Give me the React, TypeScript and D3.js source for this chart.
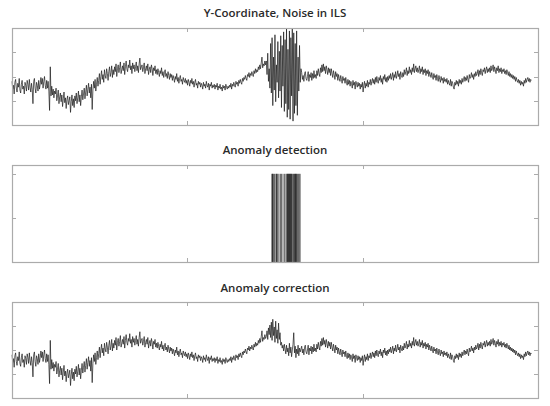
import React from "react";
import * as d3 from "d3";

// ---------- DATA ----------
const titles = ["Y-Coordinate, Noise in ILS", "Anomaly detection", "Anomaly correction"];

const xDomain = [0, 1200];
const xTicks = [400, 800];
const seriesSpan = 1185;

const signalYDomain = [0, 100];
const signalYTicks = [25, 50, 75];
const detectYDomain = [0, 1.1];
const detectYTicks = [0.5, 1];

// raw Y-coordinate signal before the ILS noise burst
const signalBefore = [
  45, 37, 41, 32, 44, 47, 38, 34, 43, 39, 48, 36, 33, 42, 46, 37, 40, 32, 44, 41,
  35, 46, 42, 36, 47, 39, 34, 43, 37, 22, 45, 48, 38, 33, 44, 41, 35, 46, 37, 42,
  49, 42, 48, 38, 45, 50, 41, 37, 46, 38, 45, 35, 15, 60, 30, 40, 31, 37, 28, 35,
  32, 38, 25, 30, 36, 22, 29, 33, 24, 31, 19, 27, 34, 23, 28, 17, 26, 30, 21, 25,
  29, 13, 24, 31, 20, 27, 18, 30, 25, 33, 22, 28, 35, 24, 31, 20, 29, 36, 26, 32,
  38, 27, 34, 41, 30, 37, 43, 33, 39, 28, 42, 16, 36, 45, 38, 47, 35, 42, 49, 40,
  46, 53, 42, 50, 56, 47, 52, 44, 57, 51, 48, 58, 53, 46, 55, 60, 50, 54, 61, 49,
  57, 52, 60, 55, 63, 50, 58, 62, 54, 59, 65, 53, 57, 61, 56, 64, 52, 60, 66, 58,
  55, 62, 59, 67, 57, 61, 53, 64, 58, 62, 55, 60, 65, 56, 61, 54, 63, 69, 57, 60,
  62, 55, 59, 64, 53, 58, 61, 56, 63, 52, 57, 60, 54, 62, 58, 51, 59, 56, 61, 53,
  57, 52, 58, 54, 50, 56, 53, 59, 51, 55, 49, 54, 57, 50, 53, 48, 55, 51, 47, 53,
  49, 52, 46, 51, 48, 44, 50, 47, 53, 45, 49, 43, 48, 51, 45, 47, 42, 49, 46, 44,
  48, 43, 46, 41, 47, 44, 40, 46, 43, 48, 42, 45, 39, 44, 47, 41, 43, 38, 45, 42,
  44, 39, 43, 41, 37, 44, 40, 42, 38, 45, 41, 39, 43, 36, 42, 40, 44, 38, 41, 39,
  42, 37, 41, 39, 43, 36, 40, 38, 42, 37, 39, 35, 41, 38, 40, 36, 42, 39, 37, 40,
  38, 41, 39, 43, 37, 42, 40, 44, 41, 39, 45, 42, 44, 40, 46, 43, 47, 44, 42, 48,
  45, 49, 47, 51, 48, 46, 52, 50, 54, 49, 53, 51, 55, 52, 50, 56, 53, 58, 54, 57,
  55, 60, 57, 62, 58, 64, 70, 59, 63, 61, 66, 62,
];

// ILS noise burst
const signalAnomaly = [
  66, 52, 74, 45, 58, 38, 84, 33,
  90, 20, 70, 36, 93, 24, 62, 44, 86, 28,
  76, 35, 92, 18, 82, 40, 96, 14, 88, 22,
  99, 8, 78, 16, 97, 6, 90, 30, 100, 4,
  95, 12, 84, 20, 97, 10, 70, 35, 82, 44, 58,
];

// corrected values for the same samples
const signalCorrected = [
  64, 70, 61, 73, 66, 76, 63, 79,
  60, 82, 65, 74, 58, 80, 62, 71, 57, 78,
  61, 68, 55, 58, 52, 55, 49, 56, 51, 46,
  55, 48, 52, 44, 57, 47, 53, 43, 50, 56,
  68, 47, 54, 42, 51, 46, 55, 44, 52, 48, 51,
];

const signalAfter = [
  54, 47, 51, 45, 53, 55, 48, 46, 50, 55, 45, 52, 49, 54, 46, 53, 48, 56, 49, 52,
  48, 56, 51, 58, 53, 50, 59, 54, 62, 55, 63, 56, 60, 53, 61, 57, 52, 59, 54, 58,
  51, 58, 53, 49, 56, 52, 47, 55, 50, 53, 46, 52, 48, 45, 51, 47, 43, 50, 46, 48,
  43, 49, 44, 41, 47, 42, 46, 40, 45, 43, 38, 46, 41, 44, 37, 45, 42, 39, 44, 40,
  43, 37, 42, 39, 44, 34, 41, 45, 38, 43, 40, 46, 39, 44, 42, 47, 41, 45, 48, 43,
  47, 42, 49, 44, 50, 45, 43, 49, 46, 51, 44, 48, 42, 50, 47, 52, 45, 49, 44, 50,
  46, 51, 48, 53, 47, 50, 54, 46, 52, 49, 55, 48, 51, 56, 50, 53, 47, 55, 51, 49,
  54, 50, 57, 52, 55, 59, 51, 56, 53, 60, 54, 57, 52, 59, 55, 63, 54, 58, 61, 55,
  59, 54, 57, 61, 53, 58, 55, 60, 52, 57, 54, 58, 51, 56, 53, 57, 50, 55, 52, 49,
  54, 50, 47, 53, 49, 51, 46, 52, 48, 45, 51, 47, 44, 50, 46, 48, 43, 49, 45, 47,
  44, 48, 42, 46, 43, 41, 47, 40, 45, 43, 39, 37, 44, 41, 46, 42, 45, 40, 47, 43,
  46, 42, 48, 44, 47, 50, 45, 49, 46, 51, 47, 44, 52, 48, 50, 54, 49, 52, 47, 53,
  50, 55, 51, 53, 57, 50, 56, 52, 58, 54, 51, 57, 55, 59, 53, 57, 60, 54, 58, 55,
  59, 54, 61, 56, 58, 62, 55, 60, 57, 53, 59, 56, 61, 54, 58, 55, 59, 53, 57, 55,
  58, 53, 56, 52, 57, 54, 51, 55, 50, 53, 49, 52, 48, 51, 47, 50, 45, 49, 46, 44,
  47, 43, 46, 41, 45, 42, 44, 40, 46, 43, 48, 44, 47, 49, 45, 48, 44, 47, 46,
];

// positions (sample axis) flagged as anomalies
const anomalyPositions = [
  592.9, 594.1, 595.2, 596.1, 598.9, 602.1, 603.2, 604.4, 606.4, 609.1, 612.8, 614.6,
  618.3, 621.9, 625.1, 627.2, 628.3, 629.4, 630.6, 631.7, 632.9, 634.0, 635.1, 636.3,
  637.4, 638.6, 640.6, 642.2, 644.5, 645.6, 646.8, 647.9, 649.1, 651.1, 653.2, 655.2,
  657.3,
];

const rawSignal = [...signalBefore, ...signalAnomaly, ...signalAfter];
const correctedSignal = [...signalBefore, ...signalCorrected, ...signalAfter];

// ---------- LAYOUT ----------
const W = 550;
const H = 406;
const left = 12;
const right = 538;
const panels = [
  { top: 28, bottom: 125, titleY: 17 },
  { top: 165, bottom: 262, titleY: 154 },
  { top: 302, bottom: 398, titleY: 292 },
];
const frameColor = "#ababab";
const tickLen = 4;

const x = d3.scaleLinear().domain(xDomain).range([left, right]);

function Frame({ top, bottom, yScale, yTicks }: any) {
  return (
    <g>
      {xTicks.map((t) => (
        <g key={"x" + t}>
          <line x1={Math.round(x(t)) + 0.5} x2={Math.round(x(t)) + 0.5} y1={top} y2={top + tickLen} stroke={frameColor} />
          <line x1={Math.round(x(t)) + 0.5} x2={Math.round(x(t)) + 0.5} y1={bottom} y2={bottom - tickLen} stroke={frameColor} />
        </g>
      ))}
      {yTicks.map((t: number) => (
        <g key={"y" + t}>
          <line x1={left} x2={left + tickLen} y1={Math.round(yScale(t)) + 0.5} y2={Math.round(yScale(t)) + 0.5} stroke={frameColor} />
          <line x1={right} x2={right - tickLen} y1={Math.round(yScale(t)) + 0.5} y2={Math.round(yScale(t)) + 0.5} stroke={frameColor} />
        </g>
      ))}
      <rect x={left + 0.5} y={top + 0.5} width={right - left} height={bottom - top} fill="none" stroke={frameColor} strokeWidth={1.2} />
    </g>
  );
}

function Title({ text, y }: any) {
  return (
    <text x={(left + right) / 2} y={y} textAnchor="middle" fontFamily="'Open Sans', sans-serif" fontSize={11.5} fontWeight={600} fill="#2a2a2a">
      {text}
    </text>
  );
}

function SignalPanel({ p, data, title }: any) {
  const y = d3.scaleLinear().domain(signalYDomain).range([p.bottom, p.top]);
  const step = seriesSpan / (data.length - 1);
  const line = d3
    .line<number>()
    .x((_, i) => x(i * step))
    .y((v) => y(v));
  return (
    <g>
      <Title text={title} y={p.titleY} />
      <path d={line(data) || ""} fill="none" stroke="#1a1a1a" strokeWidth={0.7} strokeLinejoin="round" />
      <Frame top={p.top} bottom={p.bottom} yScale={y} yTicks={signalYTicks} />
    </g>
  );
}

function DetectionPanel({ p, title }: any) {
  const y = d3.scaleLinear().domain(detectYDomain).range([p.bottom, p.top]);
  return (
    <g>
      <Title text={title} y={p.titleY} />
      {anomalyPositions.map((a, i) => (
        <line key={i} x1={x(a)} x2={x(a)} y1={y(0)} y2={y(1)} stroke="#000" strokeWidth={0.6} />
      ))}
      <Frame top={p.top} bottom={p.bottom} yScale={y} yTicks={detectYTicks} />
    </g>
  );
}

export default function App() {
  return (
    <svg width={W} height={H} style={{ position: "absolute", left: 0, top: 0, background: "#fff" }}>
      <SignalPanel p={panels[0]} data={rawSignal} title={titles[0]} />
      <DetectionPanel p={panels[1]} title={titles[1]} />
      <SignalPanel p={panels[2]} data={correctedSignal} title={titles[2]} />
    </svg>
  );
}
